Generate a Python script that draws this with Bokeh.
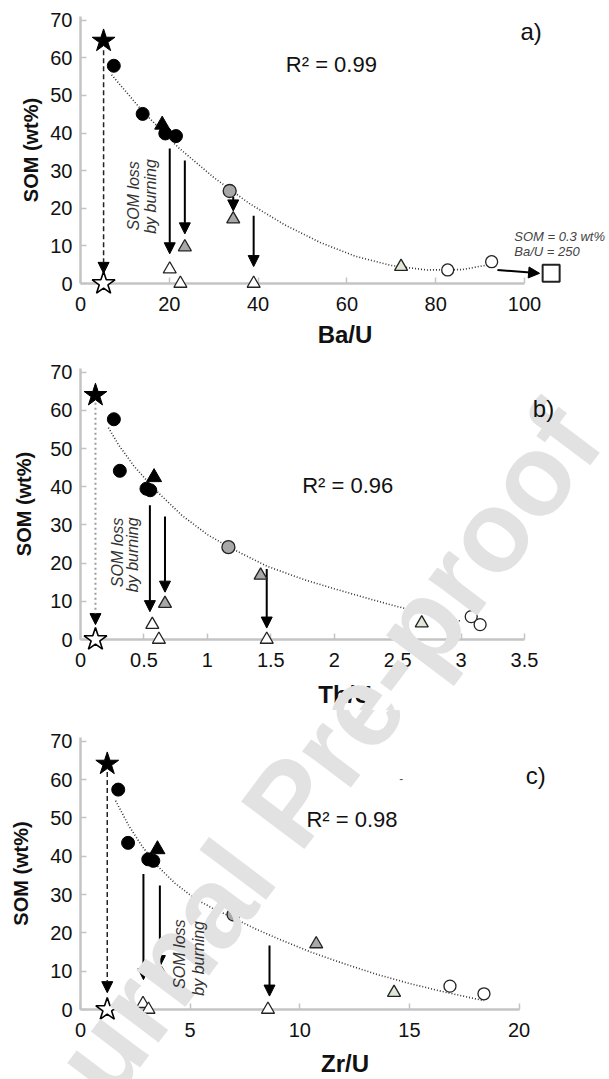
import math
from bokeh.plotting import figure
from bokeh.core.properties import value
from bokeh.models import (Range1d, FixedTicker, NumeralTickFormatter, Label, Arrow,
                          NormalHead, ColumnDataSource)
from bokeh.layouts import column
from bokeh.embed import file_html
from bokeh.resources import INLINE

FONT = "Liberation Sans"
Y_TICKS = [0, 10, 20, 30, 40, 50, 60, 70]

# ---------------- panel a : Ba/U ----------------
a_star_x = [5.2]; a_star_y = [64.5]
a_burnt_star_x = [5.2]; a_burnt_star_y = [0]
a_black_circ_x = [7.5, 14.0, 19.1, 21.5]; a_black_circ_y = [57.9, 45.1, 39.9, 39.2]
a_black_tri_x = [18.4]; a_black_tri_y = [42.2]
a_grey_circ_x = [33.6]; a_grey_circ_y = [24.6]
a_grey_tri_x = [34.4, 23.5]; a_grey_tri_y = [17.1, 9.7]
a_open_tri_x = [20.1, 22.5, 39.0]; a_open_tri_y = [3.8, 0, 0]
a_green_tri_x = [72.2]; a_green_tri_y = [4.5]
a_open_circ_x = [82.7, 92.6]; a_open_circ_y = [3.6, 5.8]
a_square_x = [106.0]; a_square_y = [2.7]
a_fit_x = [7, 14, 22, 30, 38, 46, 54, 62, 70, 78, 86, 92]
a_fit_y = [55.5, 45.8, 36.2, 28.2, 21.3, 15.6, 10.9, 7.2, 4.8, 3.6, 3.7, 5.0]
a_arrow_x = [20.1, 23.5, 34.4, 39.0]
a_arrow_y0 = [35.9, 32.7, 23.0, 18.0]
a_arrow_y1 = [7.9, 13.2, 19.3, 4.5]
a_dash_x = [5.2]; a_dash_y0 = [62.0]; a_dash_y1 = [2.7]
a_side_arrow_x0 = [93.9]; a_side_arrow_x1 = [103.4]
a_side_arrow_y0 = [3.6]; a_side_arrow_y1 = [2.7]
a_x_ticks = [0, 20, 40, 60, 80, 100]

# ---------------- panel b : Th/U ----------------
b_star_x = [0.118]; b_star_y = [64.0]
b_burnt_star_x = [0.118]; b_burnt_star_y = [0]
b_black_circ_x = [0.263, 0.31, 0.52, 0.55]; b_black_circ_y = [57.7, 44.2, 39.5, 39.1]
b_black_tri_x = [0.58]; b_black_tri_y = [42.5]
b_grey_circ_x = [1.166]; b_grey_circ_y = [24.2]
b_grey_tri_x = [1.42, 0.666]; b_grey_tri_y = [16.8, 9.4]
b_open_tri_x = [0.566, 0.618, 1.468]; b_open_tri_y = [3.9, 0, 0]
b_green_tri_x = [2.69]; b_green_tri_y = [4.3]
b_open_circ_x = [3.08, 3.15]; b_open_circ_y = [6.0, 3.9]
b_fit_x = [0.22, 0.3, 0.42, 0.58, 0.8, 1.0, 1.17, 1.47, 1.77, 2.0, 2.25, 2.5, 2.75, 3.0]
b_fit_y = [55.5, 51.0, 45.5, 39.5, 32.5, 27.5, 24.2, 19.2, 15.6, 13.3, 10.9, 8.6, 6.6, 4.8]
b_arrow_x = [0.547, 0.666, 1.468]
b_arrow_y0 = [35.2, 32.2, 18.5]
b_arrow_y1 = [7.3, 12.4, 3.0]
b_dash_x = [0.118]; b_dash_y0 = [62.0]; b_dash_y1 = [3.9]
b_x_ticks = [0, 0.5, 1, 1.5, 2, 2.5, 3, 3.5]

# ---------------- panel c : Zr/U ----------------
c_star_x = [1.22]; c_star_y = [64.1]
c_burnt_star_x = [1.22]; c_burnt_star_y = [0]
c_black_circ_x = [1.72, 2.17, 3.09, 3.32]; c_black_circ_y = [57.4, 43.5, 39.2, 38.8]
c_black_tri_x = [3.51]; c_black_tri_y = [41.8]
c_grey_circ_x = [6.98]; c_grey_circ_y = [24.8]
c_grey_tri_x = [10.75, 3.69]; c_grey_tri_y = [17.1, 9.3]
c_open_tri_x = [2.85, 3.1, 8.55]; c_open_tri_y = [1.5, 0, 0]
c_green_tri_x = [14.3]; c_green_tri_y = [4.4]
c_open_circ_x = [16.85, 18.4]; c_open_circ_y = [6.1, 4.1]
c_fit_x = [1.6, 2.2, 2.8, 3.5, 4.3, 5.2, 6.0, 7.0, 8.0, 9.0, 10.5, 12.0, 13.5, 15.0, 16.5, 18.4]
c_fit_y = [54.5, 48.0, 42.7, 37.5, 33.0, 29.0, 26.5, 23.8, 21.0, 18.5, 15.0, 12.0, 9.2, 6.8, 4.7, 2.3]
c_arrow_x = [2.87, 3.62, 8.62]
c_arrow_y0 = [35.4, 32.4, 16.7]
c_arrow_y1 = [7.8, 11.2, 3.5]
c_dash_x = [1.22]; c_dash_y0 = [62.0]; c_dash_y1 = [4.4]
c_x_ticks = [0, 5, 10, 15, 20]

WATERMARK = "Journal Pre-proof"
WM_CENTER = (284, 806)      # page pixel position of the watermark's centre
WM_ANGLE = 53               # degrees
WM_SIZE = "115px"


def style_axes(p, xticks, xbounds, xfmt, xlabel, xl_standoff, yl_standoff):
    for ax in (p.xaxis[0], p.yaxis[0]):
        ax.axis_line_color = "#c4c4c4"
        ax.axis_line_width = 2.5
        ax.major_tick_line_color = "#c4c4c4"
        ax.major_tick_line_width = 1.5
        ax.major_tick_in = 6
        ax.major_tick_out = 0
        ax.minor_tick_line_color = None
        ax.major_label_text_font = FONT
        ax.major_label_text_font_size = "20px"
        ax.major_label_text_color = "#111111"
        ax.axis_label_text_font = FONT
        ax.axis_label_text_font_style = "bold"
        ax.axis_label_text_color = "#111111"
    xa = p.xaxis[0]
    xa.ticker = FixedTicker(ticks=xticks)
    xa.bounds = xbounds
    xa.formatter = NumeralTickFormatter(format=xfmt)
    xa.axis_label = xlabel
    xa.axis_label_text_font_size = "24px"
    xa.major_label_standoff = 13
    xa.axis_label_standoff = xl_standoff
    ya = p.yaxis[0]
    ya.ticker = FixedTicker(ticks=Y_TICKS)
    ya.axis_label = "SOM (wt%)"
    ya.axis_label_text_font_size = "20px"
    ya.major_label_standoff = 8
    ya.axis_label_standoff = yl_standoff


def make_panel(height, borders, x_end, xticks, xbounds, xfmt, xlabel, d, dash_style,
               xl_standoff, yl_standoff):
    left, right, top, bottom = borders
    p = figure(width=609, height=height, x_range=Range1d(0, x_end), y_range=Range1d(0, 71),
               output_backend="svg", toolbar_location=None,
               min_border_left=left, min_border_right=right,
               min_border_top=top, min_border_bottom=bottom)
    p.outline_line_color = None
    p.grid.visible = False
    p.background_fill_color = "white"
    p.border_fill_color = "white"
    style_axes(p, xticks, xbounds, xfmt, xlabel, xl_standoff, yl_standoff)

    # fit curve
    p.line(d["fit_x"], d["fit_y"], line_color="#333333", line_width=1.6, line_dash="1 2")

    # dashed link from raw to burnt standard
    dsrc = ColumnDataSource(dict(x=d["dash_x"], y0=d["dash_y0"], y1=d["dash_y1"]))
    p.add_layout(Arrow(source=dsrc, x_start="x", y_start="y0", x_end="x", y_end="y1",
                       line_color=dash_style[0], line_width=dash_style[1],
                       line_dash=dash_style[2],
                       end=NormalHead(size=11, fill_color="black", line_color="black")))
    # burning arrows
    asrc = ColumnDataSource(dict(x=d["arrow_x"], y0=d["arrow_y0"], y1=d["arrow_y1"]))
    p.add_layout(Arrow(source=asrc, x_start="x", y_start="y0", x_end="x", y_end="y1",
                       line_color="black", line_width=2,
                       end=NormalHead(size=11, fill_color="black", line_color="black")))
    if "side_x0" in d:
        ssrc = ColumnDataSource(dict(x0=d["side_x0"], x1=d["side_x1"],
                                     y0=d["side_y0"], y1=d["side_y1"]))
        p.add_layout(Arrow(source=ssrc, x_start="x0", y_start="y0", x_end="x1", y_end="y1",
                           line_color="black", line_width=2,
                           end=NormalHead(size=11, fill_color="black", line_color="black")))

    lvl = "overlay"
    p.scatter(d["star_x"], d["star_y"], marker="star", size=24, fill_color="black",
              line_color="black", level=lvl)
    p.scatter(d["bstar_x"], d["bstar_y"], marker="star", size=24, fill_color="white",
              line_color="black", line_width=1.6, level=lvl)
    p.scatter(d["bc_x"], d["bc_y"], marker="circle", size=13, fill_color="black",
              line_color="black", level=lvl)
    p.scatter(d["bt_x"], d["bt_y"], marker="triangle", size=15, fill_color="black",
              line_color="black", level=lvl)
    p.scatter(d["gc_x"], d["gc_y"], marker="circle", size=13, fill_color="#a8a8a8",
              line_color="#222222", line_width=1.3, level=lvl)
    p.scatter(d["gt_x"], d["gt_y"], marker="triangle", size=13, fill_color="#a8a8a8",
              line_color="#222222", line_width=1.3, level=lvl)
    p.scatter(d["ot_x"], d["ot_y"], marker="triangle", size=13, fill_color="white",
              line_color="#222222", line_width=1.3, level=lvl)
    p.scatter(d["grt_x"], d["grt_y"], marker="triangle", size=13, fill_color="#dfe9d8",
              line_color="#222222", line_width=1.3, level=lvl)
    p.scatter(d["oc_x"], d["oc_y"], marker="circle", size=12, fill_color="white",
              line_color="#222222", line_width=1.3, level=lvl)
    if "sq_x" in d:
        p.scatter(d["sq_x"], d["sq_y"], marker="square", size=17, fill_color="white",
                  line_color="#222222", line_width=2, level=lvl)
    return p


def add_text(p, x, y, text, size, style="normal", color="#111111", align="center",
             baseline="middle", angle=0.0):
    p.add_layout(Label(x=x, y=y, text=text, text_font=FONT, text_font_size=size,
                       text_font_style=style, text_color=color, text_align=align,
                       text_baseline=baseline, angle=angle, level="overlay"))


def add_watermark(p, x_end, fig_top, frame_left, frame_top, frame_w, frame_h):
    # anchor at the middle of the plot frame, shifted in screen pixels to the page centre
    anchor_px = (frame_left + frame_w / 2.0, fig_top + frame_top + frame_h / 2.0)
    p.text(x=[x_end / 2.0], y=[35.5], text=[WATERMARK],
           x_offset=WM_CENTER[0] - anchor_px[0], y_offset=WM_CENTER[1] - anchor_px[1],
           angle=math.radians(WM_ANGLE), text_font=value(FONT),
           text_font_size=value(WM_SIZE), text_font_style="bold",
           text_color="#e2e2e2", text_align="center", text_baseline="middle",
           level="overlay")


da = dict(star_x=a_star_x, star_y=a_star_y, bstar_x=a_burnt_star_x, bstar_y=a_burnt_star_y,
          bc_x=a_black_circ_x, bc_y=a_black_circ_y, bt_x=a_black_tri_x, bt_y=a_black_tri_y,
          gc_x=a_grey_circ_x, gc_y=a_grey_circ_y, gt_x=a_grey_tri_x, gt_y=a_grey_tri_y,
          ot_x=a_open_tri_x, ot_y=a_open_tri_y, grt_x=a_green_tri_x, grt_y=a_green_tri_y,
          oc_x=a_open_circ_x, oc_y=a_open_circ_y, sq_x=a_square_x, sq_y=a_square_y,
          fit_x=a_fit_x, fit_y=a_fit_y, arrow_x=a_arrow_x, arrow_y0=a_arrow_y0,
          arrow_y1=a_arrow_y1, dash_x=a_dash_x, dash_y0=a_dash_y0, dash_y1=a_dash_y1,
          side_x0=a_side_arrow_x0, side_x1=a_side_arrow_x1,
          side_y0=a_side_arrow_y0, side_y1=a_side_arrow_y1)
db = dict(star_x=b_star_x, star_y=b_star_y, bstar_x=b_burnt_star_x, bstar_y=b_burnt_star_y,
          bc_x=b_black_circ_x, bc_y=b_black_circ_y, bt_x=b_black_tri_x, bt_y=b_black_tri_y,
          gc_x=b_grey_circ_x, gc_y=b_grey_circ_y, gt_x=b_grey_tri_x, gt_y=b_grey_tri_y,
          ot_x=b_open_tri_x, ot_y=b_open_tri_y, grt_x=b_green_tri_x, grt_y=b_green_tri_y,
          oc_x=b_open_circ_x, oc_y=b_open_circ_y,
          fit_x=b_fit_x, fit_y=b_fit_y, arrow_x=b_arrow_x, arrow_y0=b_arrow_y0,
          arrow_y1=b_arrow_y1, dash_x=b_dash_x, dash_y0=b_dash_y0, dash_y1=b_dash_y1)
dc = dict(star_x=c_star_x, star_y=c_star_y, bstar_x=c_burnt_star_x, bstar_y=c_burnt_star_y,
          bc_x=c_black_circ_x, bc_y=c_black_circ_y, bt_x=c_black_tri_x, bt_y=c_black_tri_y,
          gc_x=c_grey_circ_x, gc_y=c_grey_circ_y, gt_x=c_grey_tri_x, gt_y=c_grey_tri_y,
          ot_x=c_open_tri_x, ot_y=c_open_tri_y, grt_x=c_green_tri_x, grt_y=c_green_tri_y,
          oc_x=c_open_circ_x, oc_y=c_open_circ_y,
          fit_x=c_fit_x, fit_y=c_fit_y, arrow_x=c_arrow_x, arrow_y0=c_arrow_y0,
          arrow_y1=c_arrow_y1, dash_x=c_dash_x, dash_y0=c_dash_y0, dash_y1=c_dash_y1)

# panel a : frame 80..609 px wide, axis drawn up to 100
A_XEND = 100 * 529 / 444.0
pa = make_panel(350, (80, 0, 16, 63), A_XEND, a_x_ticks, (0, 100), "0", "Ba/U", da,
                ("#222222", 1.5, "5 3"), 7, 5)
add_text(pa, 56.5, 58.2, "R\u00b2 = 0.99", "22px")
add_text(pa, 101.5, 66.9, "a)", "24px")
add_text(pa, 97.7, 12.6, "SOM = 0.3 wt%", "13px", "italic", "#444444", "left")
add_text(pa, 97.7, 8.6, "Ba/U = 250", "13px", "italic", "#444444", "left")
add_text(pa, 12.0, 14.1, "SOM loss", "16px", "italic", "#333333", "left", "middle", math.pi / 2)
add_text(pa, 15.8, 13.2, "by burning", "16px", "italic", "#333333", "left", "middle", math.pi / 2)

# panel b
B_XEND = 3.5 * 529 / 444.0
pb = make_panel(360, (80, 0, 18, 67), B_XEND, b_x_ticks, (0, 3.5), "0.[0]", "Th/U", db,
                ("#9a9a9a", 2, "2 3"), 11, 12)
add_text(pb, 2.107, 40.3, "R\u00b2 = 0.96", "22px")
add_text(pb, 3.65, 60.5, "b)", "24px")
add_text(pb, 0.292, 13.7, "SOM loss", "16px", "italic", "#333333", "left", "middle", math.pi / 2)
add_text(pb, 0.41, 12.4, "by burning", "16px", "italic", "#333333", "left", "middle", math.pi / 2)
add_watermark(pb, B_XEND, 350, 80, 18, 529, 275)

# panel c
C_XEND = 20 * 538 / 446.0
pc = make_panel(369, (71, 0, 27, 63), C_XEND, c_x_ticks, (0, 20), "0", "Zr/U", dc,
                ("#222222", 1.5, "5 3"), 10, 15)
add_text(pc, 12.38, 49.6, "R\u00b2 = 0.98", "22px")
add_text(pc, 20.76, 61.0, "c)", "24px")
add_text(pc, 14.63, 60.2, "-", "12px", "normal", "#555555")
add_text(pc, 4.53, 5.4, "SOM loss", "16px", "italic", "#333333", "left", "middle", math.pi / 2)
add_text(pc, 5.38, 3.6, "by burning", "16px", "italic", "#333333", "left", "middle", math.pi / 2)
add_watermark(pc, C_XEND, 710, 71, 27, 538, 279)

layout = column(pa, pb, pc)
open("out.html", "w").write(file_html(layout, INLINE))
